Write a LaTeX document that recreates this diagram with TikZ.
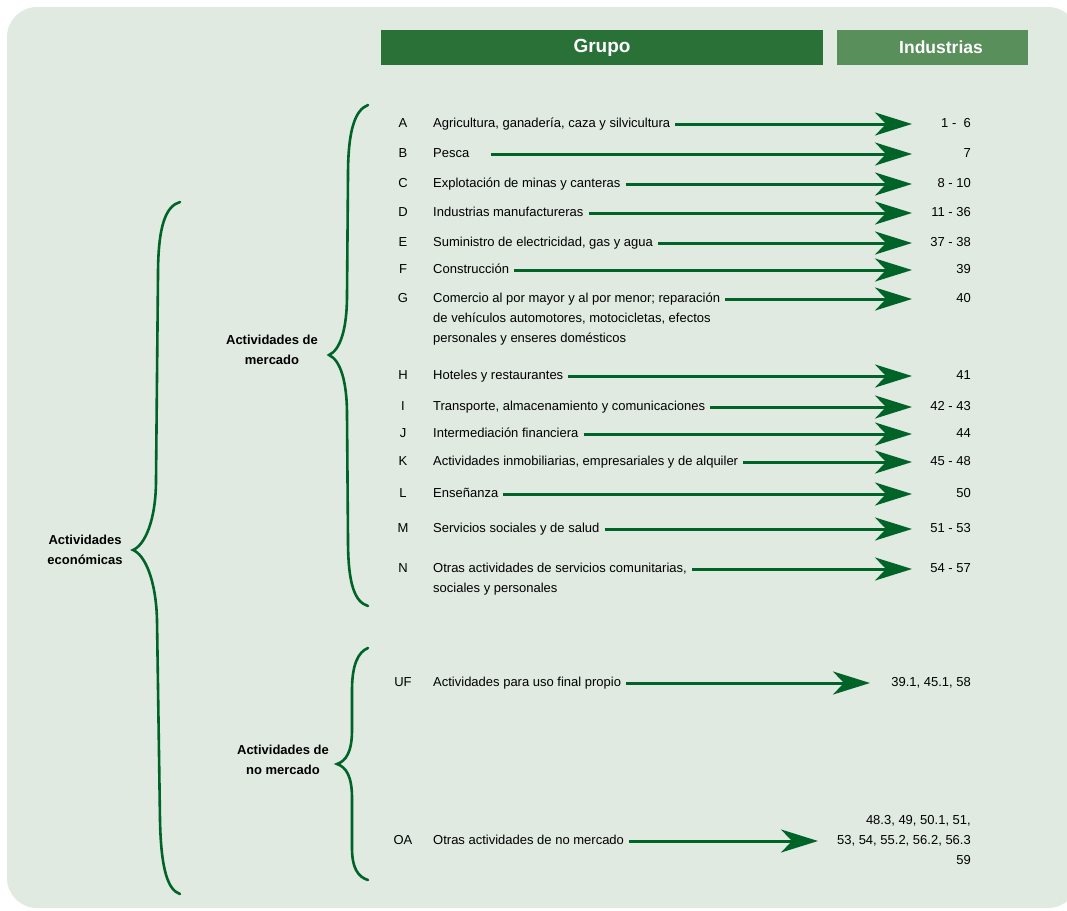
\documentclass[tikz,border=0pt]{standalone}
\usepackage{fontspec}
\setmainfont{Liberation Sans}
\usetikzlibrary{arrows.meta}
\definecolor{bgc}{RGB}{224,234,224}
\definecolor{hdrdark}{RGB}{42,113,56}
\definecolor{hdrlight}{RGB}{88,143,90}
\definecolor{arrgreen}{RGB}{0,100,40}
\tikzset{
  lbl/.style={font=\fontsize{13}{20}\selectfont, inner sep=0pt, text height=9.5pt, text depth=2.5pt},
  letter/.style={lbl, anchor=center},
  desc/.style={lbl, anchor=west, inner xsep=5pt},
  num/.style={lbl, anchor=east},
  grp/.style={font=\fontsize{13}{20.5}\selectfont\bfseries, align=center, inner sep=0pt},
  hdr/.style={font=\bfseries, text=white, inner sep=0pt},
  arr/.style={draw=arrgreen, line width=3pt, -{Stealth[length=37pt, width=23pt, inset=11pt]}},
  brace/.style={draw=arrgreen, line width=2.6pt, line cap=round}
}
\begin{document}
\begin{tikzpicture}[x=1pt,y=-1pt]
\useasboundingbox (0,0) rectangle (1067,910);
\begin{scope}
\clip (0,0) rectangle (1067,910);
\fill[bgc, rounded corners=30pt] (7,7) rectangle (1078,908);
\end{scope}
% headers
\node[fill=hdrdark, minimum width=442pt, minimum height=35pt, inner sep=0pt] (hgrupo) at (602,47.5) {};
\node[hdr, font=\fontsize{19}{20}\selectfont\bfseries] (tgrupo) at (602,47.5) {Grupo};
\node[fill=hdrlight, minimum width=191pt, minimum height=35pt, inner sep=0pt] (hind) at (932.5,47.5) {};
\node[hdr, font=\fontsize{17.5}{20}\selectfont\bfseries] (tind) at (941,47.5) {Industrias};
% braces
\draw[brace] (180,202) .. controls (166,206) and (158,225) .. (158,275)
  -- (156,480) .. controls (156,520) and (145,545) .. (133,550)
  .. controls (145,555) and (156,580) .. (157,620)
  -- (160,820) .. controls (161,870) and (168,890) .. (180,894);
\draw[brace] (368,105) .. controls (355,110) and (348,130) .. (348,175)
  -- (347,295) .. controls (347,330) and (340,350) .. (329,355)
  .. controls (340,360) and (347,380) .. (347,415)
  -- (348,540) .. controls (348,585) and (355,602) .. (368,606);
\draw[brace] (368,648) .. controls (358,652) and (352,665) .. (352,690)
  -- (352,730) .. controls (352,752) and (346,761) .. (337,764)
  .. controls (346,767) and (352,776) .. (352,798)
  -- (352,848) .. controls (352,868) and (358,877) .. (368,880);
% group labels
\node[grp] (econ) at (85,550) {Actividades\\económicas};
\node[grp] (merc) at (272,350) {Actividades de\\mercado};
\node[grp] (nomerc) at (283,760) {Actividades de\\no mercado};
% rows
\foreach \n/\l/\y/\t/\num in {
 A/A/124/{Agricultura, ganadería, caza y silvicultura}/{1 -\ \ 6},
 B/B/154/{Pesca}/{7},
 C/C/184/{Explotación de minas y canteras}/{8 - 10},
 D/D/213/{Industrias manufactureras}/{11 - 36},
 E/E/243/{Suministro de electricidad, gas y agua}/{37 - 38},
 F/F/270/{Construcción}/{39},
 G/G/299/{Comercio al por mayor y al por menor; reparación}/{40},
 H/H/376/{Hoteles y restaurantes}/{41},
 I/I/407/{Transporte, almacenamiento y comunicaciones}/{42 - 43},
 J/J/434/{Intermediación financiera}/{44},
 K/K/462/{Actividades inmobiliarias, empresariales y de alquiler}/{45 - 48},
 L/L/494/{Enseñanza}/{50},
 M/M/529/{Servicios sociales y de salud}/{51 - 53},
 N/N/569/{Otras actividades de servicios comunitarias,}/{54 - 57}} {
  \node[letter] (l\n) at (403,\y) {\l};
  \node[desc] (d\n) at (428,\y) {\t};
  \node[num] (n\n) at (971,\y) {\num};
  \coordinate (t\n) at (912,\y);
}
\node[desc] (dG2) at (428,319) {de vehículos automotores, motocicletas, efectos};
\node[desc] (dG3) at (428,339) {personales y enseres domésticos};
\node[desc] (dN2) at (428,589) {sociales y personales};
\foreach \n in {A,C,D,E,F,G,H,I,J,K,L,M,N} {
  \draw[arr] (d\n.east) -- (t\n);
}
\draw[arr, shorten <=16pt] (dB.east) -- (tB);
% non-market rows
\node[letter] (lUF) at (403,683) {UF};
\node[desc] (dUF) at (428,683) {Actividades para uso final propio};
\coordinate (tUF) at (870,683);
\node[num] (nUF) at (971,683) {39.1, 45.1, 58};
\draw[arr] (dUF.east) -- (tUF);
\node[letter] (lOA) at (403,841) {OA};
\node[desc] (dOA) at (428,841) {Otras actividades de no mercado};
\coordinate (tOA) at (818,841);
\node[num] (nOA1) at (971,820.5) {48.3, 49, 50.1, 51,};
\node[num] (nOA2) at (971,841) {53, 54, 55.2, 56.2, 56.3};
\node[num] (nOA3) at (971,860.5) {59};
\draw[arr] (dOA.east) -- (tOA);
\end{tikzpicture}
\end{document}
